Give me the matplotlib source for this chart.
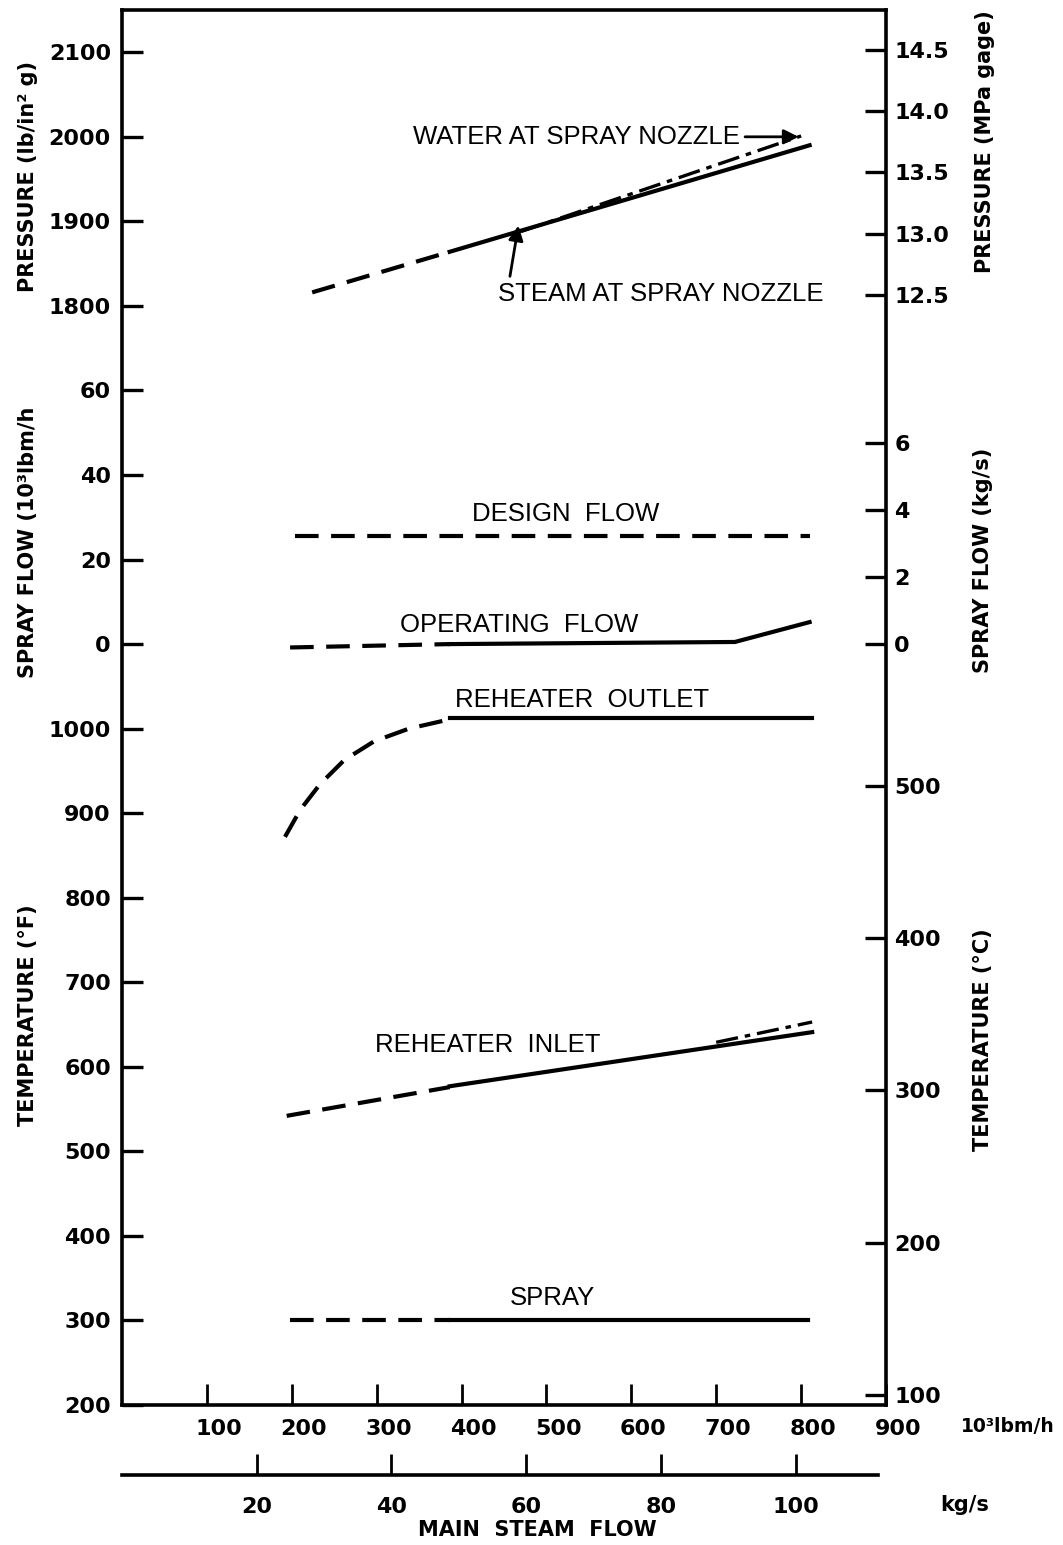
import matplotlib.pyplot as plt
from matplotlib.transforms import ScaledTranslation

plt.rcParams['font.family'] = 'DejaVu Sans'
plt.rcParams['lines.scale_dashes'] = False

# axis ticks
flow_ticks = [100, 200, 300, 400, 500, 600, 700, 800, 900]
flow_kgs_ticks = [20, 40, 60, 80, 100]
temp_f_ticks = [200, 300, 400, 500, 600, 700, 800, 900, 1000]
spray_ticks = [0, 20, 40, 60]
psi_ticks = [1800, 1900, 2000, 2100]
mpa_ticks = [12.5, 13.0, 13.5, 14.0, 14.5]
kgs_ticks = [0, 2, 4, 6]
degc_ticks = [100, 200, 300, 400, 500]

# pressure (lb/in2 g) vs main steam flow (10^3 lbm/h)
steam_dash_x = [224, 386]
steam_dash_p = [1816, 1864]
steam_x = [386, 810]
steam_p = [1864, 1990]
water_x = [470, 800]
water_p = [1888, 2001]

# spray flow (10^3 lbm/h)
design_x = [204, 810]
design_f = [25.5, 25.5]
oper_dash_x = [198, 386]
oper_dash_f = [-0.8, 0.0]
oper_x = [386, 722, 810]
oper_f = [0.0, 0.5, 5.2]

# temperatures (F)
rh_out_dash_x = [192, 210, 233, 262, 297, 338, 386]
rh_out_dash_t = [872, 904, 934, 963, 985, 1000, 1011]
rh_out_x = [386, 813]
rh_out_t = [1012, 1012]
rh_in_dash_x = [194, 386]
rh_in_dash_t = [542, 576]
rh_in_x = [386, 813]
rh_in_t = [577, 641]
rh_in_dd_x = [700, 813]
rh_in_dd_t = [629, 653]
spray_dash_x = [198, 386]
spray_dash_t = [300, 300]
spray_x = [386, 808]
spray_t = [301, 301]


# the three stacked scales share one vertical coordinate (one unit per tick slot)
def u_t(t):
    return [(v - 200) / 100 for v in t]


def u_f(f):
    return [9 + v / 20 for v in f]


def u_p(p):
    return [13 + (v - 1800) / 100 for v in p]


W, H = 1063, 1545
fig = plt.figure(figsize=(W / 100, H / 100), dpi=100)
left, right, top, bottom = 122, 886, 10, 1405
ax = fig.add_axes([left / W, 1 - bottom / H, (right - left) / W, (bottom - top) / H])
ax.set_xlim(0, 900)
ax.set_ylim(0, 16.5)
for s in ax.spines.values():
    s.set_linewidth(2.6)

lw = 3
dash = (0, (17, 9))
dashdot = (0, (16, 5, 4, 5))
ink = 'black'

ax.plot(steam_dash_x, u_p(steam_dash_p), color=ink, lw=lw, ls=dash)
ax.plot(steam_x, u_p(steam_p), color=ink, lw=lw)
ax.plot(water_x, u_p(water_p), color=ink, lw=2.4, ls=dashdot)
ax.plot(design_x, u_f(design_f), color=ink, lw=lw, ls=dash)
ax.plot(oper_dash_x, u_f(oper_dash_f), color=ink, lw=lw, ls=dash)
ax.plot(oper_x, u_f(oper_f), color=ink, lw=lw)
ax.plot(rh_out_dash_x, u_t(rh_out_dash_t), color=ink, lw=lw, ls=dash)
ax.plot(rh_out_x, u_t(rh_out_t), color=ink, lw=lw)
ax.plot(rh_in_dash_x, u_t(rh_in_dash_t), color=ink, lw=lw, ls=dash)
ax.plot(rh_in_x, u_t(rh_in_t), color=ink, lw=lw)
ax.plot(rh_in_dd_x, u_t(rh_in_dd_t), color=ink, lw=2.4, ls=dashdot)
ax.plot(spray_dash_x, u_t(spray_dash_t), color=ink, lw=lw, ls=dash)
ax.plot(spray_x, u_t(spray_t), color=ink, lw=lw)

lab = dict(family='Liberation Sans', fontsize=18.5, ha='left', va='center')
ax.text(343, 15.0, 'WATER AT SPRAY NOZZLE', **lab)
ax.text(443, 13.14, 'STEAM AT SPRAY NOZZLE', **lab)
ax.text(412, 10.54, 'DESIGN  FLOW', **lab)
ax.text(327, 9.23, 'OPERATING  FLOW', **lab)
ax.text(392, 8.34, 'REHEATER  OUTLET', **lab)
ax.text(298, 4.26, 'REHEATER  INLET', **lab)
ax.text(457, 1.27, 'SPRAY', **lab)
arr = dict(arrowstyle='-|>', color=ink, lw=2, mutation_scale=22, shrinkA=0, shrinkB=0)
ax.annotate('', xy=(797, 15.0), xytext=(734, 15.0), arrowprops=arr)
ax.annotate('', xy=(467, 13.95), xytext=(457, 13.35), arrowprops=arr)

tick_font = dict(fontsize=16, fontweight='bold')
# left scale
left_pos = u_t(temp_f_ticks) + u_f(spray_ticks) + u_p(psi_ticks)
left_lab = [str(v) for v in temp_f_ticks + spray_ticks + psi_ticks]
ax.set_yticks(left_pos)
ax.set_yticklabels(left_lab, **tick_font)
ax.set_xticks(flow_ticks)
ax.set_xticklabels([str(v) for v in flow_ticks], **tick_font)
ax.tick_params(axis='y', direction='in', length=15, width=2.4, pad=8)
ax.tick_params(axis='x', direction='in', length=15, width=2.0, pad=10)
off = ScaledTranslation(12 / 100, 0, fig.dpi_scale_trans)
for t in ax.get_xticklabels():
    t.set_transform(t.get_transform() + off)

# right scale (SI units)
axr = ax.twinx()
axr.set_ylim(ax.get_ylim())
right_pos = (u_t([c * 1.8 + 32 for c in degc_ticks])
             + u_f([k * 7.9366 for k in kgs_ticks])
             + u_p([m * 145.038 for m in mpa_ticks]))
right_lab = [str(v) for v in degc_ticks] + [str(v) for v in kgs_ticks] + ['%.1f' % v for v in mpa_ticks]
axr.set_yticks(right_pos)
axr.set_yticklabels(right_lab, **tick_font)
axr.tick_params(axis='y', direction='in', length=15, width=2.4, pad=6)
for s in axr.spines.values():
    s.set_visible(False)

# second flow scale in kg/s
y2 = 1475
ax2 = fig.add_axes([left / W, 1 - y2 / H, (right - 8 - left) / W, 0.002])
ax2.set_xlim(0, 900 * (right - 8 - left) / (right - left))
for k in ['top', 'left', 'right']:
    ax2.spines[k].set_visible(False)
ax2.spines['bottom'].set_linewidth(2.6)
ax2.patch.set_visible(False)
ax2.set_yticks([])
ax2.set_xticks([k * 7.9366 for k in flow_kgs_ticks])
ax2.set_xticklabels([str(v) for v in flow_kgs_ticks], **tick_font)
ax2.tick_params(axis='x', direction='in', length=15, width=2.0, pad=16)


def ftext(x, y, s, **kw):
    fig.text(x / W, 1 - y / H, s, ha='center', va='center', fontweight='bold', **kw)


ftext(28, 176, 'PRESSURE (lb/in² g)', rotation=90, fontsize=15)
ftext(28, 542, 'SPRAY FLOW (10³lbm/h', rotation=90, fontsize=15)
ftext(28, 1015, 'TEMPERATURE (°F)', rotation=90, fontsize=15)
ftext(985, 142, 'PRESSURE (MPa gage)', rotation=90, fontsize=15)
ftext(983, 560, 'SPRAY FLOW (kg/s)', rotation=90, fontsize=15)
ftext(983, 1040, 'TEMPERATURE (°C)', rotation=90, fontsize=15)
ftext(1008, 1427, '10³lbm/h', fontsize=13.5)
ftext(965, 1505, 'kg/s', fontsize=15)
ftext(537, 1530, 'MAIN  STEAM  FLOW', fontsize=15)

fig.savefig('out.png', dpi=100, facecolor='white')
